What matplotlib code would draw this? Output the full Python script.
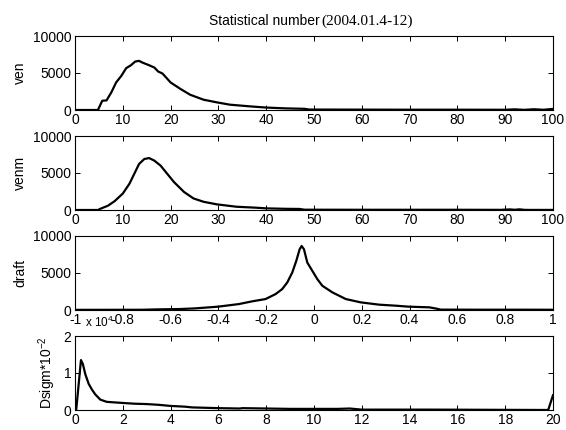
import numpy as np
import matplotlib
matplotlib.use("Agg")
import matplotlib.pyplot as plt
from matplotlib.ticker import FuncFormatter

plt.rcParams['font.family'] = ['Liberation Sans', 'DejaVu Sans']
plt.rcParams['mathtext.fontset'] = 'custom'
plt.rcParams['mathtext.rm'] = 'Liberation Sans'
plt.rcParams['mathtext.it'] = 'Liberation Sans'
plt.rcParams['font.size'] = 10

# ven (counts vs speed)
ven_x = [0, 4.5, 4.8, 5.7, 6.6, 7.6, 8.6, 9.7, 10.7, 11.7, 12.6, 13.4, 14.1, 15.5,
         16.6, 17.4, 18.3, 20, 22.1, 24.1, 26.9, 29.7, 32.4, 36.6, 40, 44, 48, 49,
         60, 70, 80, 90, 92, 94, 96, 98, 100]
ven_y = [0, 0, 0, 1250, 1300, 2380, 3720, 4620, 5650, 6050, 6550, 6640, 6410, 6050,
         5740, 5200, 4930, 3720, 2830, 2060, 1390, 1030, 720, 490, 330, 220, 160, 60,
         50, 40, 40, 30, 90, 20, 100, 30, 150]

# venm
venm_x = [0, 4.8, 5.5, 6.9, 8.3, 10, 11.4, 12.4, 13.4, 14.5, 15.5, 16.6, 17.9, 19.3,
          20.7, 22.8, 24.8, 26.9, 29.7, 33.8, 37.9, 40, 44, 47, 48, 60, 70, 80, 89,
          91, 92, 93, 94, 95, 100]
venm_y = [0, 0, 220, 580, 1200, 2220, 3560, 4890, 6220, 6890, 7020, 6670, 6000, 4890,
          3780, 2440, 1560, 1110, 760, 440, 310, 220, 160, 140, 40, 30, 30, 30, 20,
          80, 30, 90, 20, 10, 10]

# draft
draft_x = [-10000, -7200, -6600, -6000, -5600, -4965, -4014, -3147, -2587, -2028, -1608,
           -1329, -1119, -909, -741, -601, -517, -420, -280, -70, 140, 350, 770, 1330,
           1958, 2727, 3427, 3958, 4825, 5100, 5300, 7000, 9000, 10000]
draft_y = [20, 30, 80, 110, 130, 220, 450, 800, 1170, 1480, 2150, 2830, 3720, 5070,
           6640, 8210, 8650, 8210, 6410, 5290, 4170, 3270, 2380, 1480, 1030, 720, 580,
           450, 360, 200, 50, 40, 40, 30]

# Dsigm (x10^-2)
ds_x = [0, 0.05, 0.25, 0.33, 0.43, 0.57, 0.71, 0.85, 1.06, 1.33, 2, 2.5, 3, 3.5, 4,
        4.6, 4.9, 6, 6.9, 7.0, 9, 11, 11.5, 12, 15, 19.8, 20]
ds_y = [0, 0, 1.35, 1.24, 0.97, 0.71, 0.55, 0.42, 0.28, 0.22, 0.19, 0.17, 0.16, 0.14,
        0.11, 0.09, 0.07, 0.05, 0.04, 0.05, 0.03, 0.03, 0.04, 0.01, 0.01, 0.0, 0.4]

fig = plt.figure(figsize=(5.66, 4.30), dpi=100)

left, width, height = 75/566, 478/566, 74/430
bottoms = [1 - 110/430, 1 - 210/430, 1 - 310/430, 1 - 410/430]
axs = [fig.add_axes([left, b, width, height]) for b in bottoms]

panels = [
    (ven_x, ven_y, (0, 100), (0, 10000), np.arange(0, 101, 10), [0, 5000, 10000], 'ven'),
    (venm_x, venm_y, (0, 100), (0, 10000), np.arange(0, 101, 10), [0, 5000, 10000], 'venm'),
    (draft_x, draft_y, (-10000, 10000), (0, 10000), np.linspace(-10000, 10000, 11), [0, 5000, 10000], 'draft'),
    (ds_x, ds_y, (0, 20), (0, 2), np.arange(0, 21, 2), [0, 1, 2], 'Dsigm*10$^{-2}$'),
]

for ax, (x, y, xl, yl, xt, yt, lab) in zip(axs, panels):
    ax.plot(x, y, color='black', lw=1.6)
    ax.set_xlim(*xl)
    ax.set_ylim(*yl)
    ax.set_xticks(xt)
    ax.set_yticks(yt)
    ax.set_ylabel(lab, labelpad=4)
    ax.tick_params(direction='in', top=True, right=True, length=3.5, width=0.7,
                   pad=2.5, labelsize=10)
    for s in ax.spines.values():
        s.set_linewidth(0.8)

axs[2].xaxis.set_major_formatter(FuncFormatter(lambda v, p: '%g' % round(v / 1e4, 2)))
axs[2].text(0.021, -0.06, 'x 10$^4$', transform=axs[2].transAxes, ha='left', va='top',
            fontsize=8.5)

fig.text(320/566, 1 - 25/430, 'Statistical number', ha='right', va='baseline', fontsize=10)
fig.text(321/566, 1 - 25/430, '(2004.01.4-12)', ha='left', va='baseline', fontsize=11,
         family='Liberation Serif')

fig.savefig('out.png', dpi=100)
